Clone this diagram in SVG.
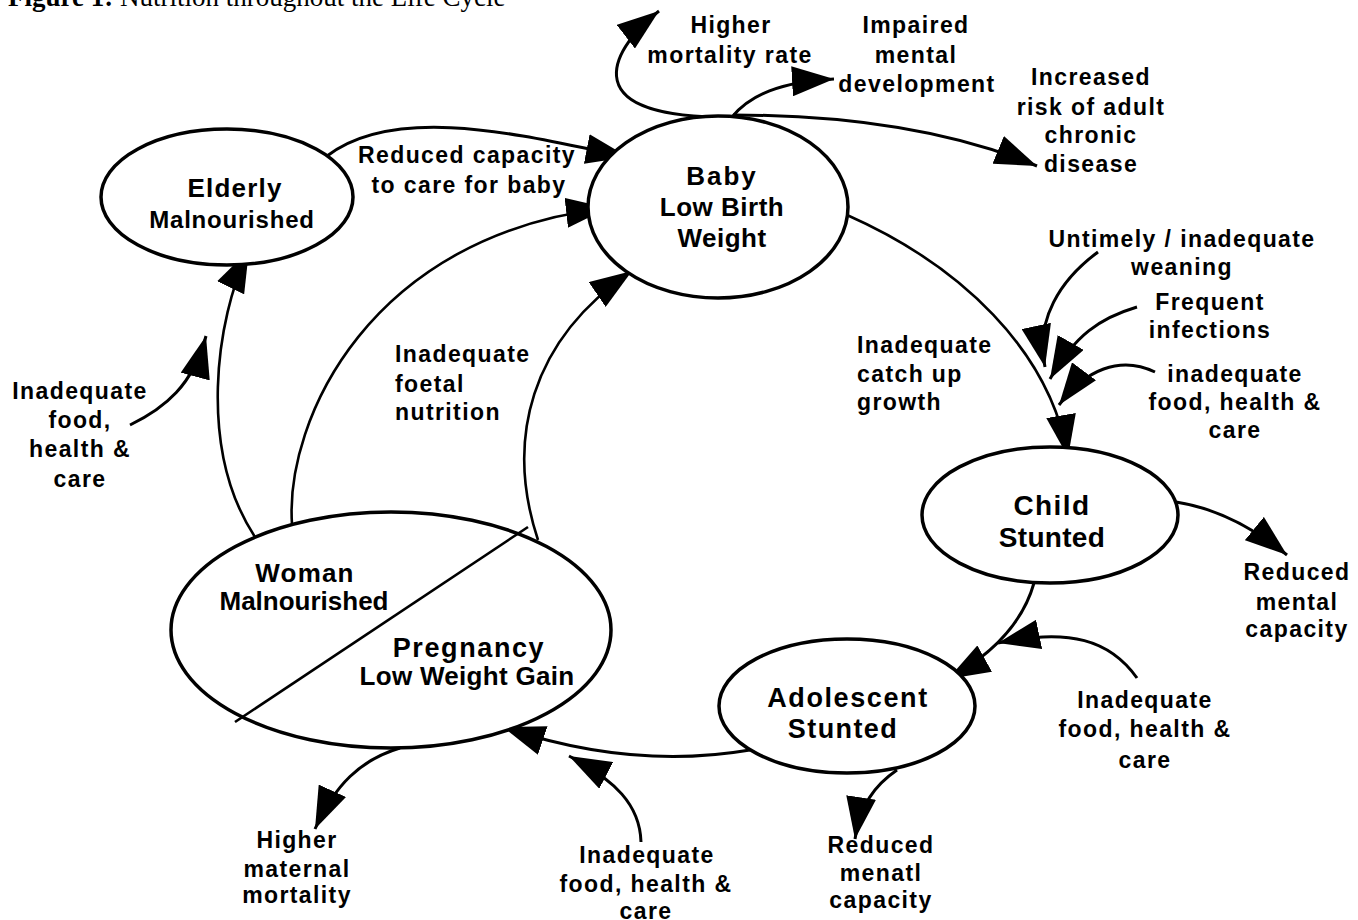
<svg xmlns="http://www.w3.org/2000/svg" width="1358" height="920" viewBox="0 0 1358 920">
<style>
  .node { fill: #fff; stroke: #000; stroke-width: 3.5; }
  .con { fill: none; stroke: #000; stroke-width: 3; marker-end: url(#ah); }
  .arc { fill: none; stroke: #000; stroke-width: 2.6; marker-end: url(#ah); }
  text { font-family: "Liberation Sans", Arial, sans-serif; font-weight: bold; fill: #000; }
  .lbl { font-size: 23px; letter-spacing: 1.4px; text-anchor: middle; }
  .lbl-l { font-size: 23px; letter-spacing: 1.4px; text-anchor: start; }
  .nt { text-anchor: middle; }
  .title { font-family: "Liberation Serif", "Times New Roman", serif; font-weight: normal; font-size: 27px; }
</style>
<defs>
  <marker id="ah" markerUnits="userSpaceOnUse" markerWidth="44" markerHeight="30" refX="42" refY="15" orient="auto">
    <path d="M0,0 L42,15 L0,30 z" fill="#000"/>
  </marker>
</defs>
<rect width="1358" height="920" fill="#fff"/>

<text class="title" x="8" y="6"><tspan font-weight="bold">Figure 1:</tspan> Nutrition throughout the Life Cycle</text>

<g id="connectors">
  <path class="con" d="M327,156 C400,100 540,140 628,157"/>
  <path class="arc" d="M292,524 C285,420 370,235 608,208"/>
  <path class="arc" d="M538,540 C505,440 530,340 632,271"/>
  <path class="arc" d="M255,537 C198,450 215,320 249,250"/>
  <path class="con" d="M130,425 C165,408 193,385 206,336"/>
  <path class="con" d="M718,117 C570,115 615,45 659,11"/>
  <path class="con" d="M732,117 C750,95 780,82 834,79"/>
  <path class="con" d="M733,115 C850,115 950,130 1037,166"/>
  <path class="arc" d="M847,215 C960,265 1050,350 1068,457"/>
  <path class="con" d="M1098,252 C1060,280 1035,320 1045,367"/>
  <path class="con" d="M1137,307 C1100,318 1075,335 1050,379"/>
  <path class="con" d="M1155,372 C1120,355 1085,370 1059,405"/>
  <path class="con" d="M1176,502 C1215,508 1250,525 1287,555"/>
  <path class="con" d="M1034,583 C1025,615 1000,650 948,679"/>
  <path class="con" d="M1137,678 C1110,640 1070,628 998,643"/>
  <path class="con" d="M897,770 C875,785 860,805 855,839"/>
  <path class="con" d="M750,750 C680,762 600,760 503,727"/>
  <path class="con" d="M641,842 C640,805 615,780 569,756"/>
  <path class="con" d="M400,748 C360,760 335,785 315,829"/>
</g>

<g id="elderly">
  <ellipse class="node" cx="227" cy="197" rx="126" ry="68"/>
  <text class="nt" x="235" y="197" font-size="26" letter-spacing="1.2">Elderly</text>
  <text class="nt" x="232" y="228" font-size="24" letter-spacing="0.8">Malnourished</text>
</g>

<g id="baby">
  <ellipse class="node" cx="718" cy="207" rx="130" ry="91"/>
  <text class="nt" x="722" y="185" font-size="26" letter-spacing="2">Baby</text>
  <text class="nt" x="722" y="216" font-size="26" letter-spacing="0.5">Low Birth</text>
  <text class="nt" x="722" y="247" font-size="26" letter-spacing="0.5">Weight</text>
</g>

<g id="child">
  <ellipse class="node" cx="1050" cy="515" rx="128" ry="68"/>
  <text class="nt" x="1052" y="515" font-size="28" letter-spacing="1.4">Child</text>
  <text class="nt" x="1052" y="547" font-size="28" letter-spacing="0.3">Stunted</text>
</g>

<g id="adolescent">
  <ellipse class="node" cx="847" cy="706" rx="128" ry="67"/>
  <text class="nt" x="848" y="707" font-size="27" letter-spacing="1.6">Adolescent</text>
  <text class="nt" x="843" y="738" font-size="27" letter-spacing="1.4">Stunted</text>
</g>

<g id="woman">
  <ellipse class="node" cx="391" cy="630" rx="220" ry="118"/>
  <line x1="235" y1="722" x2="528" y2="527" stroke="#000" stroke-width="2.6"/>
  <text class="nt" x="305" y="582" font-size="26" letter-spacing="1.2">Woman</text>
  <text class="nt" x="304" y="610" font-size="26" letter-spacing="0">Malnourished</text>
  <text class="nt" x="469" y="657" font-size="27" letter-spacing="1.6">Pregnancy</text>
  <text class="nt" x="467" y="685" font-size="26" letter-spacing="0.3">Low Weight Gain</text>
</g>

<g id="higher-mortality-rate">
  <text class="lbl" x="731" y="33">Higher</text>
  <text class="lbl" x="730" y="63">mortality rate</text>
</g>
<g id="impaired-mental-development">
  <text class="lbl" x="916" y="33">Impaired</text>
  <text class="lbl" x="916" y="63">mental</text>
  <text class="lbl" x="917" y="92">development</text>
</g>
<g id="increased-risk">
  <text class="lbl" x="1091" y="85">Increased</text>
  <text class="lbl" x="1091" y="115">risk of adult</text>
  <text class="lbl" x="1091" y="143">chronic</text>
  <text class="lbl" x="1091" y="172">disease</text>
</g>
<g id="reduced-capacity-care">
  <text class="lbl" x="467" y="163">Reduced capacity</text>
  <text class="lbl" x="469" y="193">to care for baby</text>
</g>
<g id="untimely-weaning">
  <text class="lbl" x="1182" y="247">Untimely / inadequate</text>
  <text class="lbl" x="1182" y="275">weaning</text>
</g>
<g id="frequent-infections">
  <text class="lbl" x="1210" y="310">Frequent</text>
  <text class="lbl" x="1210" y="338">infections</text>
</g>
<g id="inadequate-child">
  <text class="lbl" x="1235" y="382">inadequate</text>
  <text class="lbl" x="1235" y="410">food, health &amp;</text>
  <text class="lbl" x="1235" y="438">care</text>
</g>
<g id="catch-up-growth">
  <text class="lbl-l" x="857" y="353">Inadequate</text>
  <text class="lbl-l" x="857" y="382">catch up</text>
  <text class="lbl-l" x="857" y="410">growth</text>
</g>
<g id="foetal-nutrition">
  <text class="lbl-l" x="395" y="362">Inadequate</text>
  <text class="lbl-l" x="395" y="392">foetal</text>
  <text class="lbl-l" x="395" y="420">nutrition</text>
</g>
<g id="inadequate-elderly">
  <text class="lbl" x="80" y="399">Inadequate</text>
  <text class="lbl" x="80" y="428">food,</text>
  <text class="lbl" x="80" y="457">health &amp;</text>
  <text class="lbl" x="80" y="487">care</text>
</g>
<g id="reduced-mental-capacity">
  <text class="lbl" x="1297" y="580">Reduced</text>
  <text class="lbl" x="1297" y="610">mental</text>
  <text class="lbl" x="1297" y="637">capacity</text>
</g>
<g id="inadequate-adolescent">
  <text class="lbl" x="1145" y="708">Inadequate</text>
  <text class="lbl" x="1145" y="737">food, health &amp;</text>
  <text class="lbl" x="1145" y="768">care</text>
</g>
<g id="reduced-menatl-capacity">
  <text class="lbl" x="881" y="853">Reduced</text>
  <text class="lbl" x="881" y="881">menatl</text>
  <text class="lbl" x="881" y="908">capacity</text>
</g>
<g id="higher-maternal-mortality">
  <text class="lbl" x="297" y="848">Higher</text>
  <text class="lbl" x="297" y="877">maternal</text>
  <text class="lbl" x="297" y="903">mortality</text>
</g>
<g id="inadequate-woman">
  <text class="lbl" x="647" y="863">Inadequate</text>
  <text class="lbl" x="646" y="892">food, health &amp;</text>
  <text class="lbl" x="646" y="919">care</text>
</g>
</svg>
